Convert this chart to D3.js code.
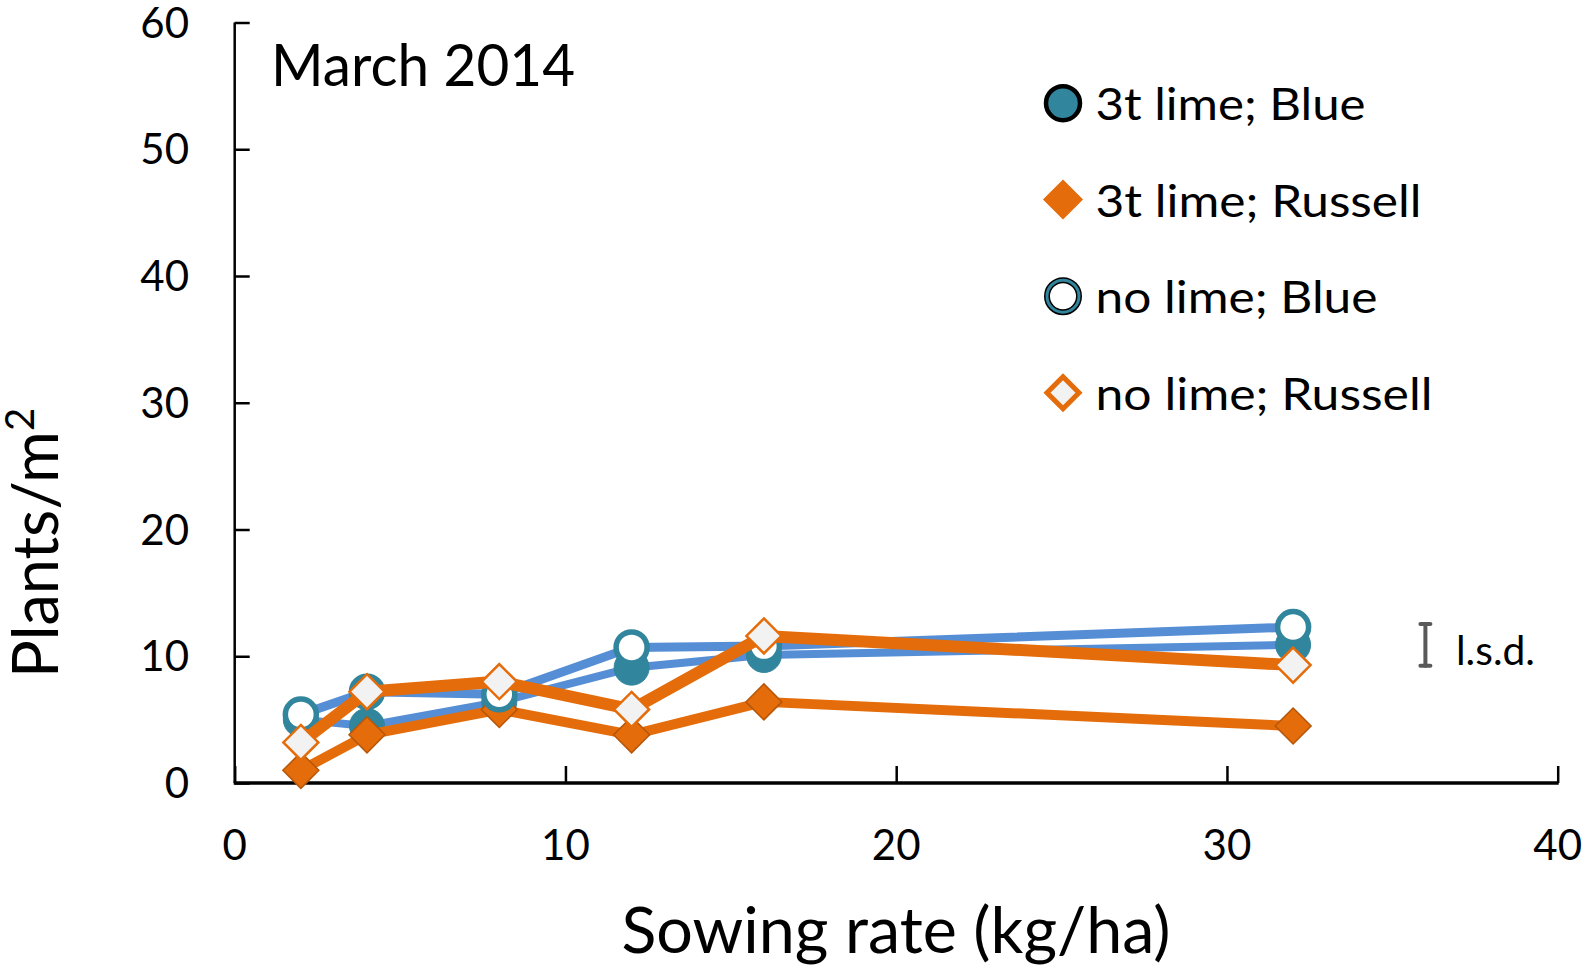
<!DOCTYPE html>
<html>
<head>
<meta charset="utf-8">
<script src="https://cdn.jsdelivr.net/npm/d3@7"></script>
<style>
  html, body { margin: 0; padding: 0; background: #fff; }
  svg { display: block; }
  text { font-family: Lato, "Open Sans", sans-serif; fill: #000; }
</style>
</head>
<body>
<svg id="chart" width="1586" height="966"></svg>
<script>
// ---- data ----
const sowingRates = [2, 4, 8, 12, 16, 32];
const lime3Blue = [5.0, 4.5, 6.4, 9.1, 10.1, 10.9];
const lime3Russell = [1.0, 3.8, 5.8, 3.8, 6.4, 4.5];
const noLimeBlue = [5.4, 7.2, 7.0, 10.7, 10.8, 12.3];
const noLimeRussell = [3.2, 7.2, 8.0, 5.8, 11.6, 9.3];
const seriesNames = ["3t lime; Blue", "3t lime; Russell", "no lime; Blue", "no lime; Russell"];
const xTicks = [0, 10, 20, 30, 40];
const yTicks = [0, 10, 20, 30, 40, 50, 60];
const lsdX = 36, lsdCenter = 10.9, lsdValue = 3.3;
const titleText = "March 2014";
const xTitle = "Sowing rate (kg/ha)";

// ---- styles ----
const TEAL = "#31859C", LBLUE = "#558ED5", ORANGE = "#E46C0A", ORANGE_DK = "#B65608", PALE = "#F2F2F2";
const series = [
  {name: seriesNames[0], values: lime3Blue, line: LBLUE, lw: 8, marker: "circleFilled"},
  {name: seriesNames[1], values: lime3Russell, line: ORANGE, lw: 10, marker: "diamondFilled"},
  {name: seriesNames[2], values: noLimeBlue, line: LBLUE, lw: 9, marker: "circleOpen"},
  {name: seriesNames[3], values: noLimeRussell, line: ORANGE, lw: 12, marker: "diamondOpen"}
];

const svg = d3.select("#chart");
const x = d3.scaleLinear().domain([0, 40]).range([234.7, 1557.7]);
const y = d3.scaleLinear().domain([0, 60]).range([783, 22.5]);

// axes
const gx = svg.append("g").attr("transform", `translate(0,${y(0)})`)
  .call(d3.axisBottom(x).tickValues(xTicks).tickSize(-17).tickFormat(""));
gx.select(".domain").attr("stroke", "#000").attr("stroke-width", 3.5).attr("d", `M${x(0)-1},0H${x(40)+1}`);
gx.selectAll(".tick line").attr("stroke", "#000").attr("stroke-width", 2.5);

const gy = svg.append("g").attr("transform", `translate(${x(0)},0)`)
  .call(d3.axisLeft(y).tickValues(yTicks).tickSize(-15).tickFormat(""));
gy.select(".domain").attr("stroke", "#000").attr("stroke-width", 2.5).attr("d", `M0,${y(60)}V${y(0)}`);
gy.selectAll(".tick line").attr("stroke", "#000").attr("stroke-width", 2.5);

// tick labels
svg.append("g").selectAll("text").data(yTicks).join("text")
  .attr("x", 189).attr("y", d => y(d) + 15)
  .attr("text-anchor", "end").attr("font-size", 42).text(d => d);
svg.append("g").selectAll("text").data(xTicks).join("text")
  .attr("x", d => x(d)).attr("y", 860)
  .attr("text-anchor", "middle").attr("font-size", 42).text(d => d);

// axis titles
svg.append("text").attr("x", 896).attr("y", 953).attr("text-anchor", "middle")
  .attr("font-size", 63).attr("textLength", 549).attr("lengthAdjust", "spacingAndGlyphs").text(xTitle);
const yt = svg.append("text").attr("transform", "translate(58,678) rotate(-90)")
  .attr("font-size", 63);
yt.append("tspan").text("Plants/m");
yt.append("tspan").attr("font-size", 40).attr("dy", -24).text("2");

// chart title
svg.append("text").attr("x", 271).attr("y", 86).attr("font-size", 58)
  .attr("textLength", 304).attr("lengthAdjust", "spacingAndGlyphs").text(titleText);

// markers
const diamondPath = (h) => `M0,${-h}L${h},0L0,${h}L${-h},0Z`;
function drawMarker(g, type, legend) {
  if (type === "circleFilled") {
    if (legend) {
      g.append("circle").attr("r", 17).attr("fill", TEAL).attr("stroke", "#000").attr("stroke-width", 4.5);
    } else {
      g.append("circle").attr("r", 17.5).attr("fill", TEAL).attr("stroke", TEAL).attr("stroke-width", 1);
    }
  } else if (type === "circleOpen") {
    if (legend) {
      g.append("circle").attr("r", 16).attr("fill", "#fff").attr("stroke", "#000").attr("stroke-width", 6);
      g.append("circle").attr("r", 16).attr("fill", "none").attr("stroke", TEAL).attr("stroke-width", 3);
    } else {
      g.append("circle").attr("r", 15.5).attr("fill", "#fff").attr("stroke", TEAL).attr("stroke-width", 5.5);
    }
  } else if (type === "diamondFilled") {
    g.append("path").attr("d", diamondPath(legend ? 19 : 18)).attr("fill", ORANGE)
      .attr("stroke", legend ? ORANGE : ORANGE_DK).attr("stroke-width", 1.5);
  } else if (type === "diamondOpen") {
    g.append("path").attr("d", diamondPath(legend ? 16 : 17.5)).attr("fill", PALE)
      .attr("stroke", ORANGE).attr("stroke-width", legend ? 5 : 2.5);
  }
}

const line = d3.line().x(d => x(d[0])).y(d => y(d[1]));
series.forEach(s => {
  const pts = sowingRates.map((r, i) => [r, s.values[i]]);
  const g = svg.append("g");
  g.append("path").attr("d", line(pts)).attr("fill", "none")
    .attr("stroke", s.line).attr("stroke-width", s.lw).attr("stroke-linejoin", "round");
  pts.forEach(p => {
    const m = g.append("g").attr("transform", `translate(${x(p[0])},${y(p[1])})`);
    drawMarker(m, s.marker, false);
  });
});

// legend
const legendY = [103.2, 199.5, 296.2, 392.7];
const legendW = [270, 326, 282, 337];
series.forEach((s, i) => {
  const m = svg.append("g").attr("transform", `translate(1063,${legendY[i]})`);
  drawMarker(m, s.marker, true);
  svg.append("text").attr("x", 1095.5).attr("y", legendY[i] + 17).attr("font-size", 45)
    .attr("textLength", legendW[i]).attr("lengthAdjust", "spacingAndGlyphs").text(s.name);
});

// l.s.d. bar
const lx = x(lsdX), ly0 = y(lsdCenter - lsdValue / 2), ly1 = y(lsdCenter + lsdValue / 2);
const lsd = svg.append("g").attr("stroke", "#595959").attr("stroke-width", 4).attr("stroke-linecap", "round");
lsd.append("line").attr("x1", lx).attr("x2", lx).attr("y1", ly0).attr("y2", ly1);
lsd.append("line").attr("x1", lx - 5).attr("x2", lx + 5).attr("y1", ly0).attr("y2", ly0);
lsd.append("line").attr("x1", lx - 5).attr("x2", lx + 5).attr("y1", ly1).attr("y2", ly1);
svg.append("text").attr("x", 1456).attr("y", 664.5).attr("font-size", 40)
  .attr("textLength", 79).attr("lengthAdjust", "spacingAndGlyphs").text("l.s.d.");
</script>
</body>
</html>
